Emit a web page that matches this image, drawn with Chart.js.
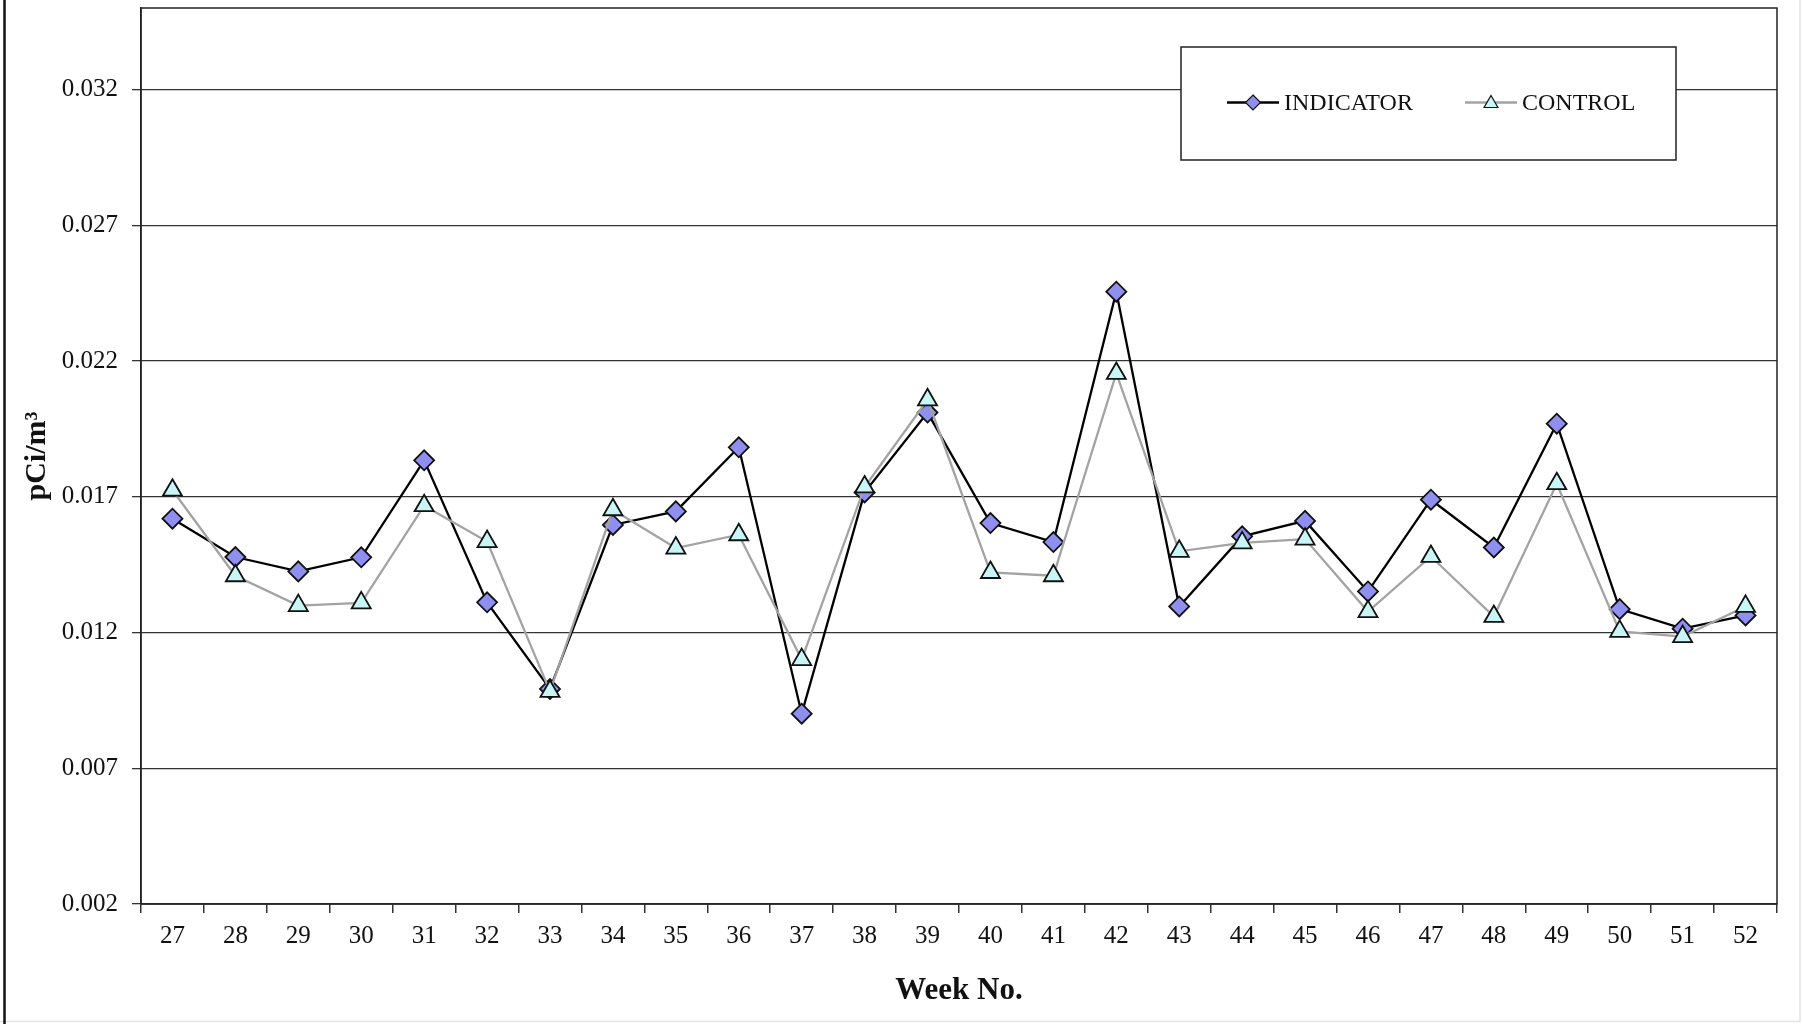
<!DOCTYPE html>
<html lang="en">

<head>
  <meta charset="UTF-8">
  <title>Weekly pCi/m3 - Indicator vs Control</title>
  <script src="https://cdn.jsdelivr.net/npm/chart.js"></script>
  <style>
    body {
      margin: 0;
      background: #fff;
    }
  </style>
</head>

<body>
  <canvas id="myChart" width="1803" height="1024"></canvas>

  <script>
    const weeks = ['27', '28', '29', '30', '31', '32', '33', '34', '35', '36', '37', '38', '39',
      '40', '41', '42', '43', '44', '45', '46', '47', '48', '49', '50', '51', '52'];

    const indicator = [0.01619, 0.01478, 0.01425, 0.01477, 0.01834, 0.01311, 0.00992, 0.01596, 0.01646,
      0.01882, 0.00901, 0.01716, 0.02010, 0.01603, 0.01533, 0.02455, 0.01296, 0.01554, 0.01611,
      0.01351, 0.01689, 0.01513, 0.01969, 0.01286, 0.01214, 0.01263];

    const control = [0.01724, 0.01409, 0.01299, 0.01309, 0.01667, 0.01535, 0.00983, 0.01652, 0.01511,
      0.01560, 0.01100, 0.01736, 0.02057, 0.01421, 0.01409, 0.02154, 0.01499, 0.01530, 0.01544,
      0.01277, 0.01480, 0.01259, 0.01748, 0.01204, 0.01185, 0.01296];

    const yTicks = [0.002, 0.007, 0.012, 0.017, 0.022, 0.027, 0.032];

    const serif = "'Liberation Serif', 'Times New Roman', serif";
    const indFill = '#8f8fef';
    const ctlFill = '#c8f6f6';

    // frame round the plot area + the outer page lines
    const framePlugin = {
      id: 'frame',
      beforeDatasetsDraw(chart) {
        const { ctx, chartArea: a } = chart;
        ctx.save();
        ctx.strokeStyle = '#222';
        ctx.lineWidth = 1.5;
        ctx.strokeRect(a.left, a.top, a.right - a.left, a.bottom - a.top);
        ctx.restore();
      },
      afterDraw(chart) {
        const ctx = chart.ctx;
        ctx.save();
        ctx.strokeStyle = '#e4e4e4';
        ctx.lineWidth = 1.5;
        ctx.beginPath();
        ctx.moveTo(0, 1021.5);
        ctx.lineTo(1800, 1021.5);
        ctx.lineTo(1800, 0);
        ctx.stroke();
        ctx.strokeStyle = '#111';
        ctx.lineWidth = 2.5;
        ctx.beginPath();
        ctx.moveTo(4.5, 0);
        ctx.lineTo(4.5, 1024);
        ctx.stroke();
        ctx.restore();
      }
    };

    function diamond(ctx, x, y, r) {
      ctx.beginPath();
      ctx.moveTo(x, y - r);
      ctx.lineTo(x + r, y);
      ctx.lineTo(x, y + r);
      ctx.lineTo(x - r, y);
      ctx.closePath();
    }

    function triangle(ctx, x, y, r) {
      const h = r * Math.sqrt(3) / 2;
      ctx.beginPath();
      ctx.moveTo(x, y - r);
      ctx.lineTo(x + h, y + r / 2);
      ctx.lineTo(x - h, y + r / 2);
      ctx.closePath();
    }

    // boxed legend inside the plot, top right
    const boxLegend = {
      id: 'boxLegend',
      afterDraw(chart) {
        const ctx = chart.ctx;
        const box = { x: 1181, y: 47, w: 495, h: 113 };
        const cy = box.y + box.h / 2 - 1;
        ctx.save();
        ctx.fillStyle = '#fff';
        ctx.fillRect(box.x, box.y, box.w, box.h);
        ctx.strokeStyle = '#222';
        ctx.lineWidth = 1.5;
        ctx.strokeRect(box.x, box.y, box.w, box.h);

        const starts = [1227, 1465];
        chart.data.datasets.forEach((ds, i) => {
          const x0 = starts[i];
          ctx.strokeStyle = ds.borderColor;
          ctx.lineWidth = ds.borderWidth;
          ctx.beginPath();
          ctx.moveTo(x0, cy);
          ctx.lineTo(x0 + 52, cy);
          ctx.stroke();
          ctx.fillStyle = ds.pointBackgroundColor;
          ctx.strokeStyle = '#111';
          ctx.lineWidth = 1.2;
          if (ds.pointStyle === 'rectRot') diamond(ctx, x0 + 26, cy, 7.5);
          else triangle(ctx, x0 + 26, cy + 1, 8);
          ctx.fill();
          ctx.stroke();
          ctx.fillStyle = '#111';
          ctx.font = '24px ' + serif;
          ctx.textBaseline = 'middle';
          ctx.fillText(ds.label, x0 + 57, cy + 1);
        });
        ctx.restore();
      }
    };

    const ctx = document.getElementById('myChart').getContext('2d');

    new Chart(ctx, {
      type: 'line',
      data: {
        labels: weeks,
        datasets: [
          {
            label: 'INDICATOR',
            data: indicator,
            borderColor: '#000',
            borderWidth: 2.3,
            pointStyle: 'rectRot',
            pointRadius: 10,
            pointBackgroundColor: indFill,
            pointBorderColor: '#111',
            pointBorderWidth: 1.8,
            tension: 0,
            order: 1,
          },
          {
            label: 'CONTROL',
            data: control,
            borderColor: '#a3a3a3',
            borderWidth: 2.3,
            pointStyle: 'triangle',
            pointRadius: 11,
            pointBackgroundColor: ctlFill,
            pointBorderColor: '#111',
            pointBorderWidth: 1.8,
            tension: 0,
            order: 0,
          },
        ],
      },
      options: {
        responsive: false,
        animation: false,
        layout: {
          autoPadding: false,
          padding: { top: 8, right: 26, left: 0, bottom: 0 },
        },
        plugins: {
          legend: { display: false },
          tooltip: { enabled: false },
        },
        scales: {
          x: {
            offset: true,
            grid: {
              offset: true,
              drawOnChartArea: false,
              drawTicks: true,
              tickLength: 9,
              color: '#333',
              lineWidth: 1.5,
            },
            border: { display: true, color: '#333', width: 1.5 },
            ticks: {
              color: '#111',
              padding: 8,
              maxRotation: 0,
              autoSkip: false,
              font: { family: serif, size: 25 },
            },
            title: {
              display: true,
              text: 'Week No.',
              color: '#111',
              font: { family: serif, size: 31, weight: 'bold' },
              padding: { top: 0, bottom: 14 },
            },
            afterFit(scale) {
              scale.height = 120;
              scale.paddingLeft = 0;
              scale.paddingRight = 0;
            },
          },
          y: {
            min: 0.002,
            max: 0.035,
            afterBuildTicks(scale) {
              scale.ticks = yTicks.map((v) => ({ value: v }));
            },
            grid: {
              color: '#333',
              lineWidth: 1.3,
              tickLength: 9,
            },
            border: { display: true, color: '#222', width: 1.5 },
            ticks: {
              color: '#111',
              padding: 14,
              font: { family: serif, size: 25 },
              callback: (v) => Number(v).toFixed(3),
            },
            title: {
              display: true,
              text: 'pCi/m³',
              color: '#111',
              font: { family: serif, size: 30, weight: 'bold' },
              padding: { top: 19, bottom: 0 },
            },
            afterFit(scale) {
              scale.width = 141;
              scale.paddingTop = 0;
              scale.paddingBottom = 0;
            },
          },
        },
      },
      plugins: [framePlugin, boxLegend],
    });
  </script>

</body>

</html>
